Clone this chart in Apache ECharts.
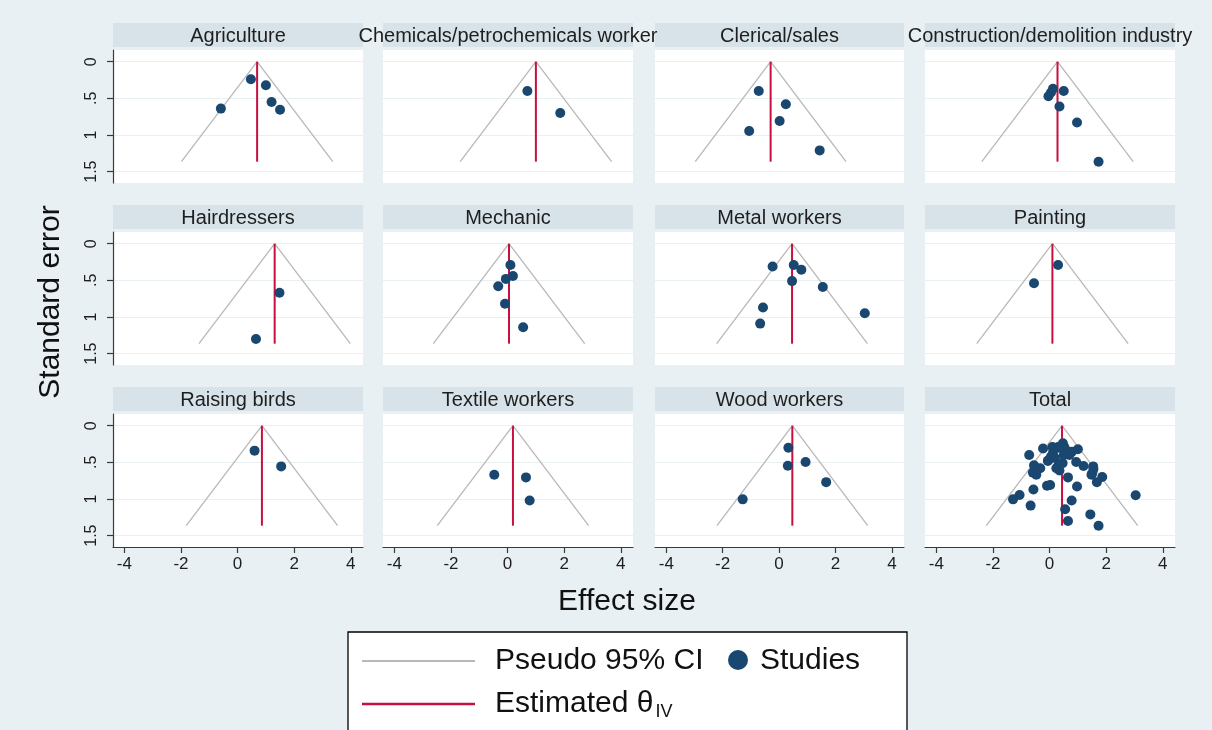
<!DOCTYPE html>
<html>
<head>
<meta charset="utf-8">
<script src="https://cdn.jsdelivr.net/npm/echarts@6/dist/echarts.min.js"></script>
<style>
  html, body { margin: 0; padding: 0; background: #ffffff; }
  #chart { width: 1212px; height: 730px; }
</style>
</head>
<body>
<div id="chart"></div>
<script>
// Funnel plots of study effect sizes by occupation group, plus the pooled total.
// Each study is [effect size, standard error].

const panelTitles = [
  'Agriculture', 'Chemicals/petrochemicals worker', 'Clerical/sales', 'Construction/demolition industry',
  'Hairdressers', 'Mechanic', 'Metal workers', 'Painting',
  'Raising birds', 'Textile workers', 'Wood workers', 'Total'
];

// Estimated overall effect (inverse-variance) per panel, same order as the titles
const thetaIV = [0.69, 1.00, -0.30, 0.28, 1.31, 0.05, 0.46, 0.10, 0.86, 0.19, 0.47, 0.44];

const agriculture  = [[0.47, 0.24], [1.00, 0.32], [1.20, 0.55], [1.50, 0.655], [-0.59, 0.64]];
const chemicals    = [[0.70, 0.40], [1.86, 0.70]];
const clerical     = [[-0.72, 0.40], [0.24, 0.58], [0.02, 0.81], [-1.06, 0.945], [1.44, 1.21]];
const construction = [[-0.04, 0.47], [0.05, 0.42], [0.12, 0.37], [0.50, 0.40], [0.35, 0.61], [0.97, 0.83], [1.73, 1.364]];
const hairdressers = [[1.48, 0.67], [0.65, 1.30]];
const mechanic     = [[0.10, 0.29], [0.19, 0.44], [-0.06, 0.48], [-0.33, 0.58], [-0.09, 0.82], [0.55, 1.14]];
const metal        = [[-0.23, 0.31], [0.52, 0.29], [0.79, 0.355], [0.46, 0.51], [1.55, 0.59], [-0.57, 0.87], [-0.67, 1.09], [3.04, 0.95]];
const painting     = [[0.30, 0.29], [-0.55, 0.54]];
const raisingBirds = [[0.60, 0.34], [1.54, 0.555]];
const textile      = [[-0.47, 0.67], [0.65, 0.705], [0.78, 1.02]];
const wood         = [[0.33, 0.30], [0.94, 0.495], [0.31, 0.545], [1.67, 0.77], [-1.29, 1.005]];

const groups = [agriculture, chemicals, clerical, construction, hairdressers, mechanic,
                metal, painting, raisingBirds, textile, wood];
// The total panel pools every study from all groups
const total = [].concat(...groups);
const panelData = groups.concat([total]);

const xTicks = [-4, -2, 0, 2, 4];
const yTicks = [0, 0.5, 1, 1.5];

// Funnel depth: the largest standard error among all studies
const maxSE = Math.max(...total.map(d => d[1]));
const Z95 = 1.96;

// ---- layout ----
const FONT = "'Liberation Sans', Arial, Helvetica, sans-serif";
const colLeft = [113, 383, 655, 925];
const colWidth = [250, 250, 249, 250];
const rowTop = [50, 232, 414];
const PLOT_H = 133;
const X_MIN = -4.4, X_MAX = 4.43;
const Y_MIN = -0.16, Y_MAX = 1.655;

const C_BG = '#e9f0f3';
const C_STRIP = '#d7e3e9';
const C_GRID = '#e9f0f2';
const C_AXIS = '#3a3a3a';
const C_DOT = '#1a476f';
const C_CI = '#b8b8b8';
const C_THETA = '#c8103f';

const fmtY = v => (v === 0 ? '0' : String(v).replace(/^0\./, '.'));

const grids = [], xAxes = [], yAxes = [], series = [], graphics = [];

panelData.forEach((pts, i) => {
  const r = Math.floor(i / 4), c = i % 4;
  const theta = thetaIV[i];

  grids.push({
    left: colLeft[c], top: rowTop[r], width: colWidth[c], height: PLOT_H,
    show: true, backgroundColor: '#ffffff', borderWidth: 0
  });

  const bottomRow = r === 2, firstCol = c === 0;

  xAxes.push({
    gridIndex: i, type: 'value', min: X_MIN, max: X_MAX,
    axisLine: { show: bottomRow, onZero: false, lineStyle: { color: C_AXIS, width: 1.2 } },
    axisTick: { show: bottomRow, customValues: xTicks, length: 6, lineStyle: { color: C_AXIS, width: 1.2 } },
    axisLabel: { show: bottomRow, customValues: xTicks, fontSize: 17, margin: 9, color: '#1e1e1e', fontFamily: FONT },
    splitLine: { show: false }
  });

  yAxes.push({
    gridIndex: i, type: 'value', inverse: true, min: Y_MIN, max: Y_MAX,
    axisLine: { show: firstCol, onZero: false, lineStyle: { color: C_AXIS, width: 1.2 } },
    axisTick: { show: firstCol, customValues: yTicks, length: 6, lineStyle: { color: C_AXIS, width: 1.2 } },
    axisLabel: { show: firstCol, customValues: yTicks, rotate: 90, formatter: fmtY,
                 fontSize: 16, margin: 13, color: '#1e1e1e', fontFamily: FONT },
    splitLine: { show: true, lineStyle: { color: C_GRID, width: 1.2 } }
  });

  // Pseudo 95% confidence limits around the estimated effect
  series.push({
    type: 'line', xAxisIndex: i, yAxisIndex: i, silent: true, symbol: 'none', z: 2,
    lineStyle: { color: C_CI, width: 1.3 },
    data: [[theta - Z95 * maxSE, maxSE], [theta, 0], [theta + Z95 * maxSE, maxSE]]
  });
  // Estimated effect
  series.push({
    type: 'line', xAxisIndex: i, yAxisIndex: i, silent: true, symbol: 'none', z: 3,
    lineStyle: { color: C_THETA, width: 2 },
    data: [[theta, 0], [theta, maxSE]]
  });
  // Studies
  series.push({
    type: 'scatter', xAxisIndex: i, yAxisIndex: i, silent: true, z: 4,
    symbol: 'circle', symbolSize: 10,
    itemStyle: { color: C_DOT, opacity: 1 },
    data: pts
  });

  // Panel title strip
  graphics.push({
    type: 'rect', silent: true, z: 1,
    shape: { x: colLeft[c], y: rowTop[r] - 27, width: colWidth[c], height: 24 },
    style: { fill: C_STRIP }
  });
  graphics.push({
    type: 'text', silent: true, z: 2,
    x: colLeft[c] + colWidth[c] / 2, y: rowTop[r] - 14,
    style: { text: panelTitles[i], font: '20px ' + FONT, fill: '#1e1e1e',
             textAlign: 'center', textVerticalAlign: 'middle' }
  });
});

// Axis titles
graphics.push({
  type: 'text', silent: true, x: 51, y: 302, rotation: Math.PI / 2,
  style: { text: 'Standard error', font: '30px ' + FONT, fill: '#111',
           textAlign: 'center', textVerticalAlign: 'middle' }
});
graphics.push({
  type: 'text', silent: true, x: 627, y: 602,
  style: { text: 'Effect size', font: '30px ' + FONT, fill: '#111',
           textAlign: 'center', textVerticalAlign: 'middle' }
});

// Legend
const LEG = { x: 348, y: 632, w: 559, h: 110, row1: 661, row2: 704 };
const LEG_FONT = '30px ' + FONT;
graphics.push({
  type: 'rect', silent: true,
  shape: { x: LEG.x, y: LEG.y, width: LEG.w, height: LEG.h },
  style: { fill: '#ffffff', stroke: '#000', lineWidth: 1.3 }
});
graphics.push({
  type: 'line', silent: true,
  shape: { x1: 362, y1: LEG.row1, x2: 475, y2: LEG.row1 },
  style: { stroke: C_CI, lineWidth: 2 }
});
graphics.push({
  type: 'text', silent: true, x: 495, y: LEG.row1,
  style: { text: 'Pseudo 95% CI', font: LEG_FONT, fill: '#111', textVerticalAlign: 'middle' }
});
graphics.push({
  type: 'circle', silent: true,
  shape: { cx: 738, cy: LEG.row1 - 1, r: 10 },
  style: { fill: C_DOT }
});
graphics.push({
  type: 'text', silent: true, x: 760, y: LEG.row1,
  style: { text: 'Studies', font: LEG_FONT, fill: '#111', textVerticalAlign: 'middle' }
});
graphics.push({
  type: 'line', silent: true,
  shape: { x1: 362, y1: LEG.row2, x2: 475, y2: LEG.row2 },
  style: { stroke: C_THETA, lineWidth: 2.5 }
});
const thetaLabel = 'Estimated θ';
const measure = document.createElement('canvas').getContext('2d');
measure.font = LEG_FONT;
const thetaW = measure.measureText(thetaLabel).width;
graphics.push({
  type: 'text', silent: true, x: 495, y: LEG.row2,
  style: { text: thetaLabel, font: LEG_FONT, fill: '#111', textVerticalAlign: 'middle' }
});
graphics.push({
  type: 'text', silent: true, x: 495 + thetaW + 2, y: LEG.row2 + 8,
  style: { text: 'IV', font: '18px ' + FONT, fill: '#111', textVerticalAlign: 'middle' }
});

const chart = echarts.init(document.getElementById('chart'), null, { renderer: 'canvas' });
chart.setOption({
  backgroundColor: C_BG,
  animation: false,
  grid: grids,
  xAxis: xAxes,
  yAxis: yAxes,
  series: series,
  graphic: { elements: graphics }
});
</script>
</body>
</html>
